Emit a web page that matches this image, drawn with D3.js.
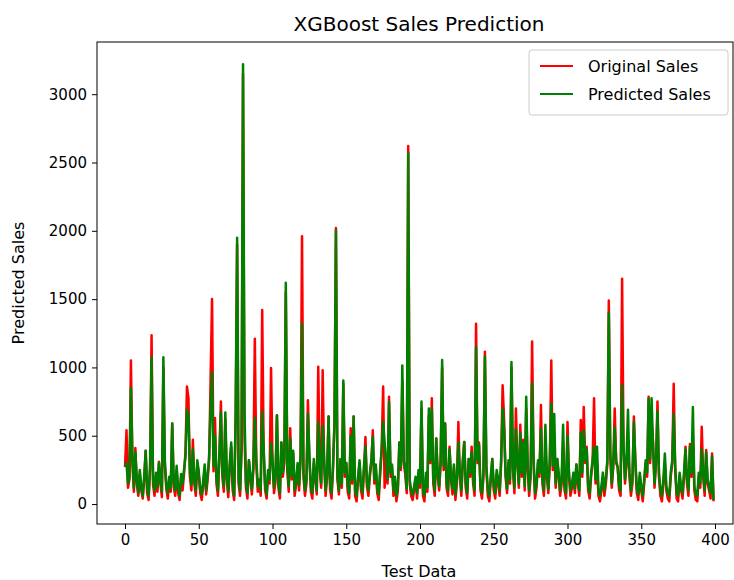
<!DOCTYPE html>
<html>
<head>
<meta charset="utf-8">
<script src="https://cdn.jsdelivr.net/npm/d3@7"></script>
<style>
  body { margin: 0; background: #fff; }
  svg text { font-family: "DejaVu Sans", sans-serif; fill: #000; }
</style>
</head>
<body>
<div id="chart"></div>
<script>
"use strict"

// Original sales, test rows 0..399
const original = [
  270, 540, 120, 180, 1050, 300, 90, 410, 150, 60, 220, 100, 40, 180, 390, 80, 30, 260, 1235, 140,
  60, 200, 90, 310, 150, 50, 1000, 280, 110, 40, 170, 90, 590, 130, 60, 250, 80, 30, 190, 100,
  220, 380, 860, 775, 200, 100, 470, 150, 60, 300, 210, 80, 30, 140, 260, 70, 180, 320, 900, 1500,
  240, 630, 150, 60, 350, 750, 200, 90, 620, 180, 50, 270, 420, 100, 30, 600, 1900, 150, 60, 400,
  3150, 500, 120, 40, 320, 180, 70, 250, 1210, 300, 90, 150, 60, 1420, 380, 100, 40, 220, 150, 995,
  300, 80, 160, 650, 120, 40, 450, 200, 300, 1550, 250, 90, 555, 180, 370, 60, 140, 280, 100, 320,
  1960, 200, 60, 150, 760, 330, 90, 40, 300, 180, 70, 1005, 250, 120, 980, 300, 60, 200, 640, 110,
  40, 250, 600, 2020, 180, 70, 300, 120, 880, 200, 300, 90, 40, 555, 150, 640, 60, 20, 180, 300,
  100, 40, 250, 490, 130, 60, 200, 300, 540, 150, 270, 80, 30, 220, 400, 860, 120, 300, 150, 785,
  200, 270, 60, 170, 20, 100, 450, 250, 900, 300, 220, 80, 2620, 150, 60, 30, 100, 180, 40, 220,
  120, 700, 60, 20, 200, 90, 650, 300, 775, 150, 60, 480, 200, 100, 300, 1000, 250, 590, 120, 60,
  420, 180, 70, 270, 30, 150, 600, 200, 60, 300, 455, 120, 40, 330, 200, 420, 150, 60, 1320, 300,
  450, 100, 40, 200, 1115, 250, 60, 20, 180, 330, 100, 40, 220, 150, 60, 300, 870, 620, 200, 80,
  300, 150, 1000, 250, 80, 700, 300, 120, 580, 200, 470, 100, 700, 250, 60, 200, 1190, 300, 40, 120,
  300, 200, 725, 150, 60, 400, 200, 80, 300, 1050, 250, 400, 120, 330, 200, 60, 150, 450, 100, 40,
  600, 200, 60, 120, 200, 80, 290, 150, 60, 615, 200, 710, 300, 420, 100, 40, 200, 300, 775, 150,
  300, 60, 20, 100, 200, 60, 150, 300, 1490, 350, 120, 270, 700, 300, 270, 100, 60, 1650, 400, 150,
  300, 450, 200, 60, 150, 640, 300, 80, 30, 200, 100, 20, 150, 300, 200, 785, 300, 600, 450, 120,
  300, 750, 200, 60, 20, 150, 300, 100, 40, 20, 200, 300, 880, 250, 40, 20, 200, 100, 40, 200,
  420, 150, 60, 440, 200, 500, 100, 30, 20, 200, 120, 565, 200, 60, 395, 150, 100, 40, 370, 20
];

// XGBoost predictions for the same rows
const predicted = [
  280, 300, 150, 200, 850, 350, 120, 380, 180, 80, 250, 130, 60, 200, 390, 110, 60, 280, 1075, 180,
  100, 230, 120, 300, 180, 90, 1075, 320, 140, 80, 200, 120, 590, 160, 100, 280, 120, 60, 220, 150,
  250, 350, 690, 650, 230, 140, 400, 180, 100, 320, 240, 110, 70, 170, 290, 100, 210, 340, 700, 965,
  280, 500, 190, 100, 380, 670, 240, 130, 670, 210, 90, 300, 450, 140, 60, 650, 1950, 190, 100, 420,
  3220, 690, 160, 80, 320, 210, 110, 280, 630, 330, 130, 180, 100, 675, 400, 140, 70, 250, 180, 445,
  320, 120, 200, 650, 160, 80, 450, 230, 330, 1620, 280, 130, 480, 210, 390, 100, 170, 300, 140, 350,
  1320, 230, 100, 180, 660, 350, 130, 80, 330, 210, 100, 600, 280, 150, 570, 320, 100, 230, 640, 150,
  80, 280, 580, 2000, 210, 100, 330, 150, 905, 230, 300, 130, 80, 500, 180, 640, 100, 60, 200, 320,
  130, 80, 270, 420, 160, 100, 230, 320, 490, 180, 290, 110, 70, 250, 400, 600, 450, 320, 180, 745,
  230, 290, 100, 200, 60, 130, 450, 270, 1015, 320, 250, 110, 2570, 180, 100, 70, 130, 200, 80, 250,
  150, 750, 100, 60, 230, 120, 700, 320, 700, 180, 100, 480, 230, 130, 330, 1055, 280, 590, 150, 100,
  400, 210, 110, 290, 70, 180, 450, 230, 100, 320, 455, 150, 80, 330, 230, 380, 180, 100, 1150, 320,
  430, 130, 80, 230, 1080, 280, 100, 60, 210, 330, 130, 80, 250, 180, 100, 320, 700, 550, 230, 110,
  320, 180, 1040, 280, 120, 550, 320, 150, 520, 230, 450, 130, 785, 280, 100, 230, 885, 320, 80, 150,
  320, 230, 550, 180, 100, 580, 230, 110, 320, 735, 280, 660, 150, 330, 230, 100, 180, 580, 130, 80,
  500, 230, 100, 150, 230, 110, 290, 180, 100, 520, 230, 540, 320, 400, 130, 80, 230, 320, 420, 180,
  420, 100, 60, 130, 230, 100, 180, 320, 1400, 380, 150, 290, 560, 320, 270, 130, 100, 870, 420, 180,
  320, 690, 230, 100, 180, 600, 320, 110, 70, 230, 130, 60, 180, 320, 230, 770, 330, 775, 420, 150,
  320, 680, 230, 100, 60, 180, 370, 130, 80, 60, 230, 320, 660, 280, 80, 60, 230, 130, 80, 230,
  400, 180, 100, 420, 230, 710, 130, 70, 60, 230, 150, 400, 230, 100, 380, 180, 130, 80, 350, 30
];

const xTicks = [0, 50, 100, 150, 200, 250, 300, 350, 400];
const yTicks = [0, 500, 1000, 1500, 2000, 2500, 3000];
const seriesNames = ["Original Sales", "Predicted Sales"];
const seriesColors = ["red", "green"];

const W = 734, H = 580;
const box = { left: 97, right: 733, top: 42, bottom: 524 };

const svg = d3.select("#chart").append("svg")
  .attr("width", W)
  .attr("height", H);

const x = d3.scaleLinear().domain([-19, 412.2]).range([box.left, box.right]);
const y = d3.scaleLinear().domain([-146, 3382]).range([box.bottom, box.top]);

const line = d3.line()
  .x((d, i) => x(i))
  .y(d => y(d));

svg.append("defs").append("clipPath").attr("id", "clip")
  .append("rect")
    .attr("x", box.left).attr("y", box.top)
    .attr("width", box.right - box.left).attr("height", box.bottom - box.top);

const plot = svg.append("g").attr("clip-path", "url(#clip)");

[original, predicted].forEach((vals, k) => {
  plot.append("path")
    .datum(vals)
    .attr("fill", "none")
    .attr("stroke", seriesColors[k])
    .attr("stroke-width", 2.5)
    .attr("stroke-linejoin", "round")
    .attr("d", line);
});

// axes
const xAxis = svg.append("g")
  .attr("transform", `translate(0,${box.bottom})`)
  .call(d3.axisBottom(x).tickValues(xTicks).tickFormat(d3.format("d")).tickSize(5).tickPadding(5).tickSizeOuter(0));
const yAxis = svg.append("g")
  .attr("transform", `translate(${box.left},0)`)
  .call(d3.axisLeft(y).tickValues(yTicks).tickFormat(d3.format("d")).tickSize(5).tickPadding(5).tickSizeOuter(0));

[xAxis, yAxis].forEach(a => {
  a.select(".domain").remove();
  a.selectAll("text").attr("font-size", 15).attr("font-family", "DejaVu Sans");
  a.selectAll("line").attr("stroke", "#000");
});

svg.append("rect")
  .attr("x", box.left).attr("y", box.top)
  .attr("width", box.right - box.left).attr("height", box.bottom - box.top)
  .attr("fill", "none").attr("stroke", "#000").attr("stroke-width", 1);

svg.append("text")
  .attr("x", (box.left + box.right) / 2 + 4)
  .attr("y", 31)
  .attr("text-anchor", "middle")
  .attr("font-size", 20)
  .text("XGBoost Sales Prediction");

svg.append("text")
  .attr("x", (box.left + box.right) / 2 + 4)
  .attr("y", 577)
  .attr("text-anchor", "middle")
  .attr("font-size", 16)
  .text("Test Data");

svg.append("text")
  .attr("transform", `translate(24,${(box.top + box.bottom) / 2}) rotate(-90)`)
  .attr("text-anchor", "middle")
  .attr("font-size", 16)
  .text("Predicted Sales");

// legend
const legend = svg.append("g").attr("transform", "translate(529,50)");
legend.append("rect")
  .attr("width", 199).attr("height", 65).attr("rx", 3)
  .attr("fill", "#fff").attr("fill-opacity", 0.8)
  .attr("stroke", "#ccc");
seriesNames.forEach((name, k) => {
  const g = legend.append("g").attr("transform", `translate(0,${16 + k * 28})`);
  g.append("line")
    .attr("x1", 11).attr("x2", 44)
    .attr("stroke", seriesColors[k]).attr("stroke-width", 2);
  g.append("text")
    .attr("x", 59).attr("dy", "0.35em")
    .attr("font-size", 16)
    .text(name);
});
</script>
</body>
</html>
